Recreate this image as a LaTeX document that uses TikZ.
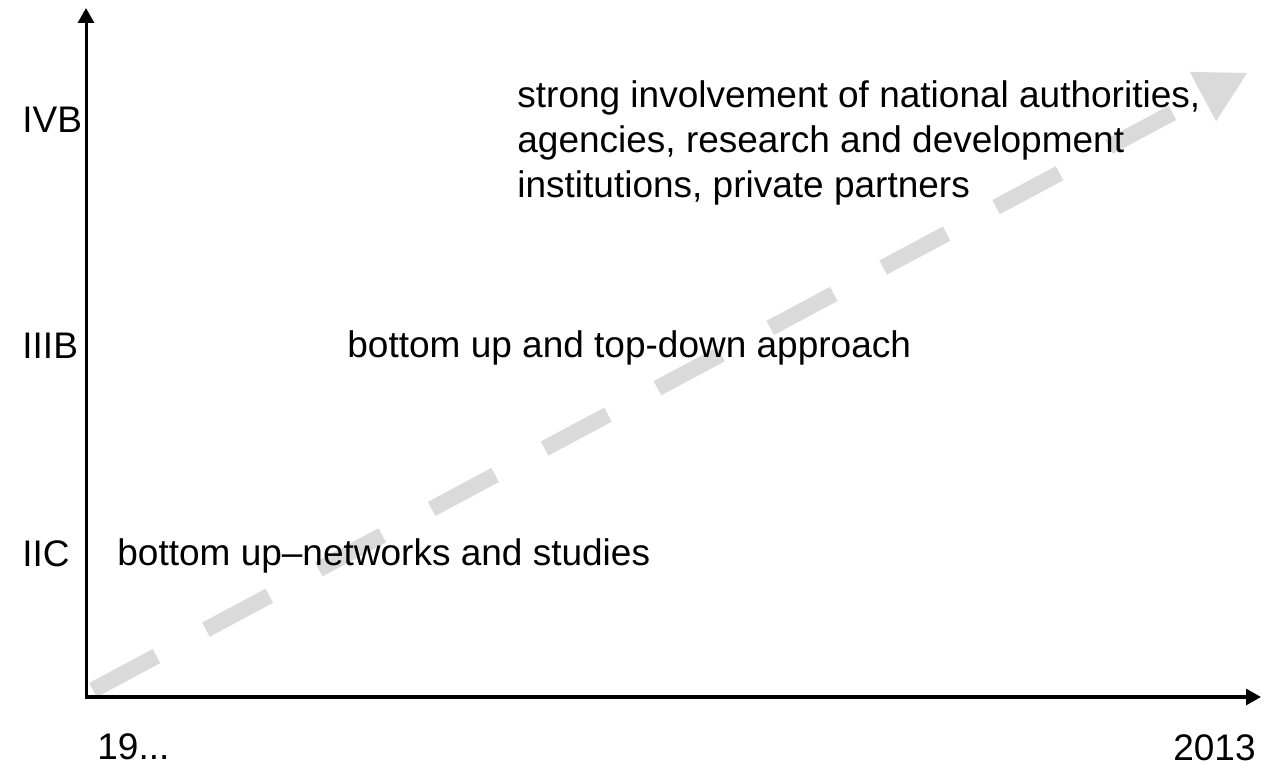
\documentclass[tikz,border=0pt]{standalone}
\usepackage{xcolor}
\usepackage{fontspec}
\setmainfont{Liberation Sans}
\usepackage{tikz}
\usetikzlibrary{arrows.meta}

\definecolor{trendgray}{RGB}{218,218,218}

\begin{document}
\begin{tikzpicture}[x=0.5pt, y=0.5pt]
    % Define styles
    \tikzstyle{axis} = [line width=1.5pt, {Triangle[length=7.5pt,width=8pt]}-{Triangle[length=7.5pt,width=8pt]}]
    \tikzstyle{trend} = [draw=trendgray, line width=8pt, dash pattern=on 36pt off 28pt, -{Triangle[length=25pt,width=28pt,line width=0pt]}]
    \tikzstyle{phase} = [inner sep=0pt, anchor=base west, font=\fontsize{18.5}{22.5}\selectfont]
    \tikzstyle{desc} = [inner sep=0pt, anchor=base west, font=\fontsize{18.5}{22.5}\selectfont]

    \useasboundingbox (0,0) rectangle (1262,765);

    % Coordinates
    \coordinate (origin) at (86,68);
    \coordinate (ytop) at (86,757);
    \coordinate (xend) at (1261,68);
    \coordinate (trendstart) at (93,75);
    \coordinate (trendend) at (1247,692);

    % Arrows
    \draw [trend] (trendstart) -- (trendend);
    \draw [axis] (ytop) -- (origin) -- (xend);

    % Nodes
    \node [phase] (ivb) at (22,632) {IVB};
    \node [phase] (iiib) at (22,406) {IIIB};
    \node [phase] (iic) at (22,198) {IIC};
    \node [phase] (startyear) at (97,6) {19...};
    \node [phase, anchor=base east] (endyear) at (1256,5) {2013};

    \node [desc] (networks) at (117,199) {bottom up--networks and studies};
    \node [desc] (approach) at (347,407) {bottom up and top-down approach};
    \node [desc, anchor=north west, align=left] (involvement) at (517,685) {strong involvement of national authorities,\\agencies, research and development\\institutions, private partners};
\end{tikzpicture}
\end{document}
